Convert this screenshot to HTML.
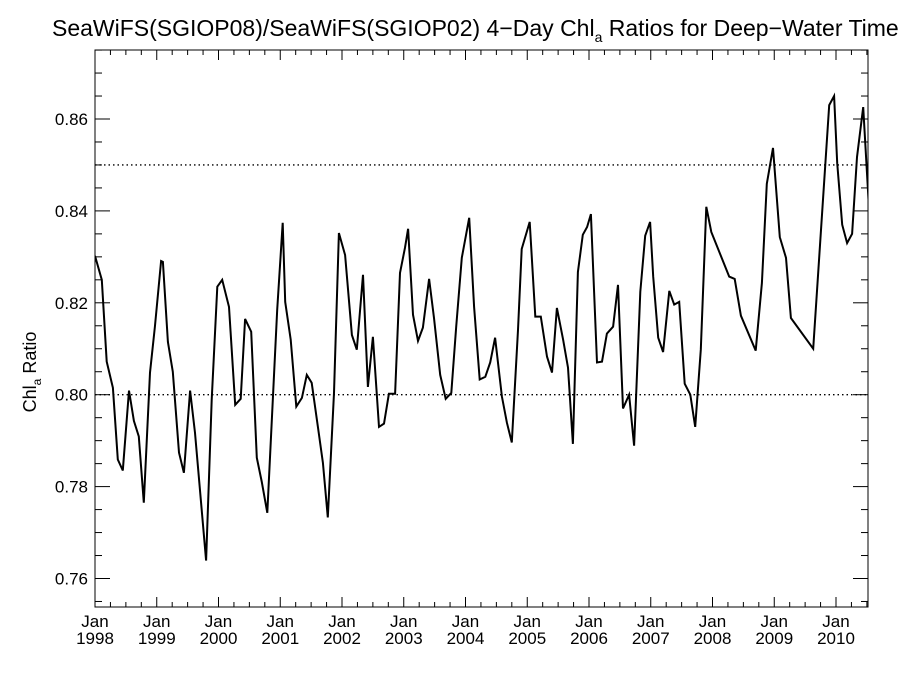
<!DOCTYPE html>
<html><head><meta charset="utf-8"><style>
html,body{margin:0;padding:0;background:#fff;width:900px;height:675px;overflow:hidden}
svg text{font-family:"Liberation Sans",Arial,sans-serif;fill:#000}
</style></head><body>
<svg id="chart" width="900" height="675" viewBox="0 0 900 675" xmlns="http://www.w3.org/2000/svg">
<text x="52" y="36" font-size="23">SeaWiFS(SGIOP08)/SeaWiFS(SGIOP02) 4−Day Chl<tspan font-size="14" dy="6">a</tspan><tspan dy="-6"> Ratios for Deep−Water Time Series</tspan></text>
<text transform="translate(36,372) rotate(-90)" text-anchor="middle" font-size="18">Chl<tspan font-size="12" dy="5">a</tspan><tspan dy="-5"> Ratio</tspan></text>
<g id="axes"></g>
<g id="series"></g>
</svg>
<script>
const years=[1998.00,1998.11,1998.19,1998.29,1998.37,1998.45,1998.55,1998.63,1998.71,1998.79,1998.89,1998.97,1999.07,1999.10,1999.18,1999.26,1999.36,1999.44,1999.54,1999.62,1999.80,1999.89,1999.98,2000.06,2000.17,2000.27,2000.36,2000.43,2000.53,2000.62,2000.70,2000.79,2000.95,2001.04,2001.08,2001.17,2001.26,2001.35,2001.43,2001.51,2001.61,2001.69,2001.77,2001.87,2001.95,2002.05,2002.16,2002.24,2002.34,2002.42,2002.50,2002.60,2002.68,2002.76,2002.86,2002.94,2003.02,2003.07,2003.15,2003.23,2003.31,2003.41,2003.49,2003.59,2003.68,2003.77,2003.85,2003.94,2004.06,2004.14,2004.23,2004.32,2004.40,2004.48,2004.59,2004.67,2004.75,2004.85,2004.91,2005.04,2005.13,2005.22,2005.32,2005.40,2005.48,2005.58,2005.66,2005.74,2005.82,2005.90,2005.97,2006.03,2006.13,2006.21,2006.29,2006.39,2006.47,2006.55,2006.65,2006.73,2006.83,2006.91,2006.99,2007.04,2007.12,2007.20,2007.30,2007.38,2007.46,2007.55,2007.64,2007.72,2007.81,2007.90,2007.98,2008.27,2008.36,2008.46,2008.70,2008.80,2008.88,2008.98,2009.09,2009.19,2009.27,2009.63,2009.74,2009.89,2009.97,2010.02,2010.10,2010.18,2010.26,2010.34,2010.44,2010.53];
const ratios=[0.8302,0.8250,0.8072,0.8015,0.7859,0.7835,0.8009,0.7943,0.7909,0.7765,0.8048,0.8148,0.8291,0.8289,0.8115,0.8050,0.7874,0.7830,0.8009,0.7917,0.7639,0.7989,0.8235,0.8250,0.8191,0.7978,0.7991,0.8165,0.8137,0.7863,0.7811,0.7743,0.8185,0.8374,0.8202,0.8120,0.7974,0.7993,0.8043,0.8026,0.7930,0.7852,0.7733,0.8004,0.8352,0.8304,0.8130,0.8098,0.8261,0.8017,0.8126,0.7930,0.7937,0.8002,0.8002,0.8265,0.8320,0.8361,0.8174,0.8117,0.8146,0.8252,0.8167,0.8043,0.7991,0.8004,0.8148,0.8298,0.8385,0.8191,0.8033,0.8039,0.8070,0.8124,0.7996,0.7939,0.7896,0.8141,0.8317,0.8376,0.8170,0.8170,0.8083,0.8048,0.8189,0.8120,0.8059,0.7893,0.8267,0.8348,0.8365,0.8393,0.8070,0.8072,0.8133,0.8148,0.8239,0.7970,0.8000,0.7889,0.8224,0.8346,0.8376,0.8257,0.8124,0.8093,0.8226,0.8196,0.8202,0.8024,0.8000,0.7930,0.8098,0.8409,0.8354,0.8257,0.8252,0.8172,0.8096,0.8243,0.8459,0.8537,0.8343,0.8298,0.8167,0.8100,0.8322,0.8630,0.8650,0.8504,0.8370,0.8330,0.8350,0.8517,0.8626,0.8417];
const yTicks=[0.76,0.78,0.80,0.82,0.84,0.86];
const yTickLabels=["0.76","0.78","0.80","0.82","0.84","0.86"];
const xTickYears=[1998,1999,2000,2001,2002,2003,2004,2005,2006,2007,2008,2009,2010];
const refLines=[0.80,0.85];

const L=95,R=868,T=50,B=607;
const xMin=1998,xMax=1998+(R-L)/61.75;
const yAt86=119,pxPerUnit=4595;
const xs=v=>L+(v-xMin)*61.75;
const ys=v=>yAt86-(v-0.86)*pxPerUnit;
const NS="http://www.w3.org/2000/svg";
const axes=document.getElementById('axes'),series=document.getElementById('series');
function mk(tag,attrs,parent){const e=document.createElementNS(NS,tag);for(const k in attrs)e.setAttribute(k,attrs[k]);parent.appendChild(e);return e;}

const frame=mk('rect',{x:L,y:T,width:R-L,height:B-T,fill:'none',stroke:'#000','stroke-width':1},axes);



// y minor ticks
for(let v=0.755;v<=0.876;v+=0.005){
  const y=ys(v); if(y<T||y>B)continue;
  const major=yTicks.some(t=>Math.abs(t-v)<1e-6);
  const len=major?15:7;
  const t1=mk('line',{x1:L,y1:y,x2:L+len,y2:y,stroke:'#000','stroke-width':1},axes);
  
  
  const t2=mk('line',{x1:R,y1:y,x2:R-len,y2:y,stroke:'#000','stroke-width':1},axes);
  
  
}
yTicks.forEach((v,i)=>{
  const t=mk('text',{x:L-7,y:ys(v)+6,'text-anchor':'end','font-size':17},axes);
  t.textContent=yTickLabels[i];
  
  
});
// x ticks
for(let q=0;q<=4*13;q++){
  const yr=xMin+q/4; const x=xs(yr); if(x>R+0.5)continue;
  const len=(q%4===0)?10:5;
  const a=mk('line',{x1:x,y1:B,x2:x,y2:B-len,stroke:'#000','stroke-width':1},axes);
  
  
  const b=mk('line',{x1:x,y1:T,x2:x,y2:T+len,stroke:'#000','stroke-width':1},axes);
  
  
}
xTickYears.forEach(yr=>{
  const x=xs(yr);
  const t=mk('text',{x:x,y:B+20,'text-anchor':'middle','font-size':17},axes);
  t.textContent='Jan';
  
  
  const t2=mk('text',{x:x,y:B+37,'text-anchor':'middle','font-size':17},axes);
  t2.textContent=String(yr);
  
  
});
refLines.forEach(v=>{
  const l=mk('line',{x1:L,y1:ys(v),x2:R,y2:ys(v),stroke:'#000','stroke-width':1.3,'stroke-dasharray':'1.5 3'},series);
  
  
});
const clip=mk('clipPath',{id:'pc'},series);
mk('rect',{x:L,y:T,width:R-L,height:B-T},clip);
const pts=years.map((yr,i)=>xs(yr).toFixed(1)+','+ys(ratios[i]).toFixed(1)).join(' ');
const pl=mk('polyline',{points:pts,fill:'none',stroke:'#000','stroke-width':2,'stroke-linejoin':'miter','clip-path':'url(#pc)'},series);


</script>
</body></html>
